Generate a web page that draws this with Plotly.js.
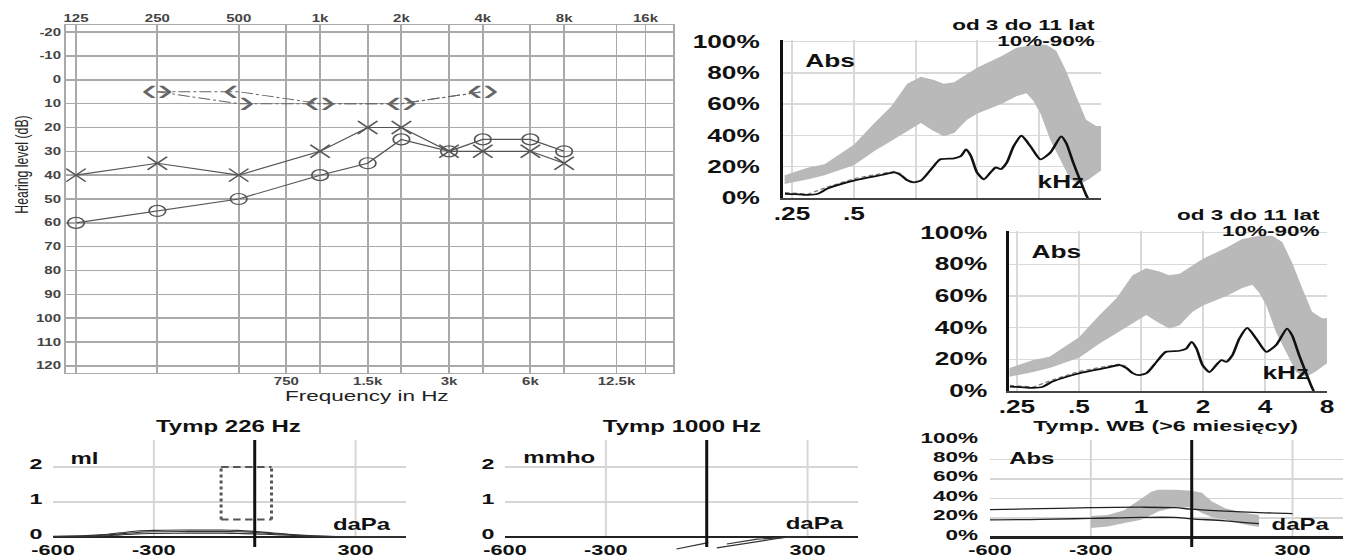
<!DOCTYPE html>
<html><head><meta charset="utf-8">
<script src="https://cdn.plot.ly/plotly-3.0.1.min.js"></script>
<style>
html,body{margin:0;padding:0;background:#fff;overflow:hidden;width:1348px;height:559px}
#chart{width:899px;height:559px;transform:scaleX(1.49944);transform-origin:0 0}
</style></head><body><div id="chart"></div>
<script>
// ---------- Audiogram data ----------
const audFreq = [125,250,500,1000,1500,2000,3000,4000,6000,8000];
const leftAC  = [40,35,40,30,20,20,30,30,30,35];   // X
const rightAC = [60,55,50,40,35,25,30,25,25,30];   // O
const bcFreq  = [250,500,1000,2000,4000];
const rightBC = [5,5,10,10,5];                     // <
const leftBC  = [5,10,10,10,5];                    // >
const topFreqTicks  = [125,250,500,1000,2000,4000,8000,16000];
const topFreqLabels = ['125','250','500','1k','2k','4k','8k','16k'];
const midFreqTicks  = [750,1500,3000,6000,12500,20000];
const midFreqLabels = ['750','1.5k','3k','6k','12.5k',''];
const hlTicks  = [-20,-10,0,10,20,30,40,50,60,70,80,90,100,110,120];
const hlLabels = ['-20','-10','0','10','20','30','40','50','60','70','80','90','100','110','120'];

// ---------- Wideband absorbance data (kHz, %) ----------
const wbUpperF = [0.23,0.3,0.36,0.5,0.63,0.76,0.91,1.06,1.23,1.37,1.54,1.78,2.0,2.6,3.1,3.75,4.34,4.85,5.42,6.06,6.77,7.57,8.0];
const wbUpper  = [14.5,19.5,21.6,34,48,58.5,73,77.5,75.5,73,74,79,83.5,90.5,96,98,98,94,81,65,50,46,46];
const wbLowerF = [0.23,0.3,0.36,0.5,0.63,0.76,0.91,1.06,1.2,1.37,1.54,1.78,2.0,2.6,3.1,3.47,3.75,4.06,4.53,5.07,5.66,6.33,7.0,8.0];
const wbLower  = [9,12,14.5,21,30,36.5,43,48,43.5,39.5,41.5,50,54,60,65,67,62,54,37,24.5,12,9,12,17.5];
const wbMeasF  = [0.231,0.258,0.298,0.334,0.372,0.436,0.505,0.583,0.683,0.789,0.85,0.911,0.98,1.065,1.19,1.32,1.54,1.66,1.76,1.86,1.99,2.15,2.32,2.46,2.6,2.78,3.0,3.28,3.63,4.06,4.53,5.12,5.42,5.86,6.33,6.77,6.9];
const wbMeas   = [2.7,2.5,2,2.7,6,9,11.3,13,14.7,16.4,14.5,11.3,10,11.3,18.4,24.7,25.4,26.8,31,26.8,16.4,12,16.4,19.5,18.4,22.6,33,39.8,33,24.7,29,39.4,35,22.6,11.3,2,0];
const wbMeas2F = [0.231,0.3,0.372,0.436,0.505,0.583,0.683,0.789,0.85];
const wbMeas2  = [3.5,2.5,7,10,12.5,14,15.5,17,15.5];
const wbTicks  = [0.25,0.5,1,2,4,8];
const wbLabels = ['.25','.5','1','2','4','8'];
const wbLabelsTop = ['.25','.5','','','',''];
const pctTicks  = [0,20,40,60,80,100];
const pctLabels = ['0%','20%','40%','60%','80%','100%'];

// ---------- Tympanogram data (daPa) ----------
const tympP  = [-600,-500,-450,-400,-350,-300,-200,-100,-50,0,50,100,150,200,300,450];
const t226A  = [0.02,0.04,0.07,0.12,0.17,0.19,0.2,0.2,0.19,0.16,0.12,0.08,0.05,0.03,0.01,0];
const t226B  = [0.01,0.03,0.05,0.09,0.13,0.15,0.16,0.16,0.15,0.13,0.1,0.07,0.04,0.02,0.01,0];
const t226C  = [0,0.02,0.03,0.06,0.09,0.1,0.11,0.11,0.1,0.09,0.07,0.05,0.03,0.01,0,0];
const boxP   = [-100,50];
const boxV   = [0.5,2.0];
const t1000AP = [-90,5];      const t1000A = [-0.34,-0.16];
const t1000BP = [30,240,300]; const t1000B = [-0.31,0,0];
const t1000CP = [60,150,260]; const t1000C = [-0.2,-0.06,0];
const wbtBandP  = [-300,-250,-200,-150,-120,-100,-50,0,30,60,100,150,200];
const wbtUpper  = [22,23,28,40,47,49,49,48,46,37,30,25.5,23];
const wbtLower  = [9.6,11,14.7,18,23,26.5,31,31,25,21,18,13.8,10.7];
const wbtL1P = [-600,-450,-300,-150,-50,0,100,200,300];
const wbtL1  = [28.5,29.5,30.5,31,30.5,29,27,25.5,24.5];
const wbtL2P = [-600,-450,-300,-150,-50,0,100,200];
const wbtL2  = [18,18.5,19.5,20.5,20.5,19,17,14];
const tympTicks  = [-600,-300,300];
const tympLabels = ['-600','-300','300'];
const tympGrid   = [-300,300];
const admTicks   = [0,1,2];
const admLabels  = ['0','1','2'];

// ---------- helpers ----------
const W = 1348, H = 559;
const px = v => v / W;
const py = v => 1 - v / H;
const FONT = 'Liberation Sans, Arial, sans-serif';
const BOLD = (size, color) => ({family: FONT, size: size, color: color || '#111', weight: 'bold'});

const traces = [];
// Audiogram
traces.push({x: bcFreq, y: leftBC, xaxis:'x', yaxis:'y', mode:'lines+text', text: bcFreq.map(() => '\u203A'),
  textposition:'middle right', textfont:{family:FONT, size:32, color:'#666'},
  line:{color:'#666', width:1, dash:'8px,2px,2px,2px'}, hoverinfo:'skip'});
traces.push({x: bcFreq, y: rightBC, xaxis:'x', yaxis:'y', mode:'lines+text', text: bcFreq.map(() => '\u2039'),
  textposition:'middle left', textfont:{family:FONT, size:32, color:'#666'},
  line:{color:'#666', width:1, dash:'8px,2px,2px,2px'}, hoverinfo:'skip'});
traces.push({x: audFreq, y: rightAC, xaxis:'x', yaxis:'y', mode:'lines+markers',
  line:{color:'#555', width:1.1}, marker:{symbol:'circle-open', size:11, color:'#555', line:{width:1.2, color:'#555'}}});
traces.push({x: audFreq, y: leftAC, xaxis:'x2', yaxis:'y', mode:'lines+markers',
  line:{color:'#555', width:1.1}, marker:{symbol:'x-thin-open', size:13, color:'#555', line:{width:1.3, color:'#555'}}});

// Wideband absorbance (two identical panels)
[['x3','y3'],['x4','y4']].forEach(([xa, ya]) => {
  traces.push({x: wbUpperF.concat(wbLowerF.slice().reverse()), y: wbUpper.concat(wbLower.slice().reverse()),
    xaxis:xa, yaxis:ya, mode:'lines', fill:'toself', fillcolor:'#b9b9b9', line:{width:0, color:'#b9b9b9'}, hoverinfo:'skip'});
  traces.push({x: wbMeas2F, y: wbMeas2, xaxis:xa, yaxis:ya, mode:'lines', line:{color:'#777', width:1.2, dash:'3px,2px'}});
  traces.push({x: wbMeasF, y: wbMeas, xaxis:xa, yaxis:ya, mode:'lines', line:{color:'#111', width:1.8, shape:'spline', smoothing:0.6}});
});

// Tymp 226
[t226A, t226B, t226C].forEach(v => traces.push({x: tympP, y: v, xaxis:'x5', yaxis:'y5', mode:'lines',
  line:{color:'#333', width:1.1, shape:'spline'}}));
// Tymp 1000
[[t1000AP,t1000A],[t1000BP,t1000B],[t1000CP,t1000C]].forEach(([p,v]) => traces.push({x:p, y:v, xaxis:'x6', yaxis:'y6',
  mode:'lines', line:{color:'#333', width:1.1}}));
// Tymp WB
traces.push({x: wbtBandP.concat(wbtBandP.slice().reverse()), y: wbtUpper.concat(wbtLower.slice().reverse()),
  xaxis:'x7', yaxis:'y7', mode:'lines', fill:'toself', fillcolor:'#b9b9b9', line:{width:0, color:'#b9b9b9'}, hoverinfo:'skip'});
traces.push({x: wbtL1P, y: wbtL1, xaxis:'x7', yaxis:'y7', mode:'lines', line:{color:'#222', width:1.3, shape:'spline'}});
traces.push({x: wbtL2P, y: wbtL2, xaxis:'x7', yaxis:'y7', mode:'lines', line:{color:'#222', width:1.3, shape:'spline'}});

// ---------- layout ----------
const audGrid = '#a9a9a9';
const wbGrid = '#d9d9d9';
const tympYDomain = [py(550), py(440)];
const tympYRange = [-0.371, 2.771];
const wbtYRange = [-13.1, 100.3];

function wbX(domain, range, labels, anchor) {
  return {type:'log', domain:domain, range:range, anchor:anchor, tickmode:'array', tickvals:wbTicks, ticktext:labels,
    showgrid:true, gridcolor:wbGrid, gridwidth:1.4, showline:true, linecolor:'#444', linewidth:2, ticks:'', zeroline:false,
    tickfont:BOLD(17.5), ticklabelstandoff:-1};
}
function wbY(domain, anchor, standoff) {
  return {domain:domain, range:[0,101], anchor:anchor, tickmode:'array', tickvals:pctTicks, ticktext:pctLabels,
    showgrid:true, gridcolor:wbGrid, gridwidth:1.4, showline:true, linecolor:'#111', linewidth:2, ticks:'', zeroline:false,
    tickfont:BOLD(17.5), ticklabelstandoff:standoff};
}
function tympX(domain, anchor) {
  return {domain:domain, range:[-600,450], anchor:anchor, tickmode:'array', tickvals:tympTicks, ticktext:tympLabels,
    showgrid:false, zeroline:false, showline:false, ticks:'', tickfont:BOLD(14.5), ticklabelstandoff:-10};
}
function tympY(anchor, range, vals, labels, standoff, size) {
  return {domain:tympYDomain, range:range, anchor:anchor, tickmode:'array', tickvals:vals, ticktext:labels,
    showgrid:true, gridcolor:'#d6d6d6', gridwidth:1.3, zeroline:true, zerolinecolor:'#222', zerolinewidth:2.5,
    showline:false, ticks:'', tickfont:BOLD(size), ticklabelstandoff:standoff, ticklabelshift:-3};
}

const shapes = [];
[['x5','y5',2.771,-0.286],['x6','y6',2.771,-0.286],['x7','y7',100.3,-10]].forEach(([xa,ya,top,bot]) => {
  tympGrid.forEach(g => shapes.push({type:'line', xref:xa, yref:ya, x0:g, x1:g, y0:0, y1:top,
    line:{color:'#d6d6d6', width:1.3}, layer:'below'}));
  shapes.push({type:'line', xref:xa, yref:ya, x0:0, x1:0, y0:bot, y1:top, line:{color:'#111', width:2}});
});
// normal-range box on Tymp 226
shapes.push({type:'line', xref:'x5', yref:'y5', x0:boxP[0], x1:boxP[1], y0:boxV[1], y1:boxV[1], line:{color:'#555', width:2, dash:'5px,3px'}});
shapes.push({type:'line', xref:'x5', yref:'y5', x0:boxP[0], x1:boxP[1], y0:boxV[0], y1:boxV[0], line:{color:'#555', width:2, dash:'5px,3px'}});
shapes.push({type:'line', xref:'x5', yref:'y5', x0:boxP[0], x1:boxP[0], y0:boxV[0], y1:boxV[1], line:{color:'#555', width:2, dash:'dot'}});
shapes.push({type:'line', xref:'x5', yref:'y5', x0:boxP[1], x1:boxP[1], y0:boxV[0], y1:boxV[1], line:{color:'#555', width:2, dash:'dot'}});

function ann(text, x, y, xanchor, font, extra) {
  return Object.assign({text:text, xref:'paper', yref:'paper', x:px(x), y:py(y), xanchor:xanchor, yanchor:'middle',
    showarrow:false, font:font}, extra || {});
}
const annotations = [
  ann('Frequency in Hz', 366, 395, 'center', {family:FONT, size:15, color:'#222'}),
  ann('Hearing level (dB)', 22, 165, 'center', {family:FONT, size:12.3, color:'#222'}, {textangle:-90}),
  ann('od 3 do 11 lat', 1097, 25, 'right', BOLD(15)),
  ann('10%-90%', 1097, 40, 'right', BOLD(15)),
  ann('Abs', 802, 61, 'left', BOLD(17.5)),
  ann('kHz', 1035, 182, 'left', BOLD(17.5)),
  ann('od 3 do 11 lat', 1323, 215, 'right', BOLD(15)),
  ann('10%-90%', 1323, 230, 'right', BOLD(15)),
  ann('Abs', 1028, 252, 'left', BOLD(17.5)),
  ann('kHz', 1260, 373, 'left', BOLD(17.5)),
  ann('Tymp 226 Hz', 229, 426, 'center', BOLD(16)),
  ann('ml', 68, 458, 'left', BOLD(16)),
  ann('daPa', 330, 524, 'left', BOLD(16)),
  ann('Tymp 1000 Hz', 682, 426, 'center', BOLD(16)),
  ann('mmho', 520, 457, 'left', BOLD(16)),
  ann('daPa', 783, 523, 'left', BOLD(16)),
  ann('Tymp. WB (>6 miesięcy)', 1166, 425, 'center', BOLD(15.5)),
  ann('Abs', 1006, 458, 'left', BOLD(16)),
  ann('daPa', 1268, 524, 'left', BOLD(16))
];

const audRange = [2.05991, 4.30587];
const layout = {
  width: 899, height: 559, margin:{l:0, r:0, t:0, b:0, pad:0}, autosize:false,
  paper_bgcolor:'#ffffff', plot_bgcolor:'rgba(0,0,0,0)', showlegend:false,
  font:{family:FONT, color:'#111'},
  xaxis:{type:'log', domain:[px(66), px(673)], range:audRange, anchor:'y', tickmode:'array',
    tickvals:midFreqTicks, ticktext:midFreqLabels, showgrid:true, gridcolor:audGrid, gridwidth:1.3,
    showline:true, mirror:true, linecolor:'#aaa', linewidth:1.3, ticks:'', zeroline:false,
    tickfont:BOLD(10, '#444'), ticklabelstandoff:-1},
  xaxis2:{type:'log', overlaying:'x', side:'top', anchor:'y', range:audRange, tickmode:'array',
    tickvals:topFreqTicks.concat([20000]), ticktext:topFreqLabels.concat(['']), showgrid:true, gridcolor:audGrid, gridwidth:1.3,
    showline:false, ticks:'', zeroline:false, tickfont:BOLD(10, '#444')},
  yaxis:{domain:[py(373), py(25)], range:[123,-23], anchor:'x', tickmode:'array', tickvals:hlTicks, ticktext:hlLabels,
    showgrid:true, gridcolor:audGrid, gridwidth:1.6, showline:true, mirror:true, linecolor:'#aaa', linewidth:1.3,
    ticks:'', zeroline:false, tickfont:BOLD(10, '#444')},
  xaxis3: wbX([px(783), px(1101)], [-0.64610, 0.90309], wbLabelsTop, 'y3'),
  yaxis3: wbY([py(198), py(40)], 'x3', 10),
  xaxis4: wbX([px(1009), px(1327)], [-0.64074, 0.90309], wbLabels, 'y4'),
  yaxis4: wbY([py(391), py(231)], 'x4', 9),
  xaxis5: tympX([px(53), px(406)], 'y5'),
  yaxis5: tympY('x5', tympYRange, admTicks, admLabels, 6, 15.5),
  xaxis6: tympX([px(505), px(858)], 'y6'),
  yaxis6: tympY('x6', tympYRange, admTicks, admLabels, 6, 15.5),
  xaxis7: tympX([px(990), px(1343)], 'y7'),
  yaxis7: tympY('x7', wbtYRange, pctTicks, pctLabels, 7, 15),
  shapes: shapes,
  annotations: annotations
};

Plotly.newPlot('chart', traces, layout, {staticPlot:true, displayModeBar:false, responsive:false});
</script>
</body></html>
